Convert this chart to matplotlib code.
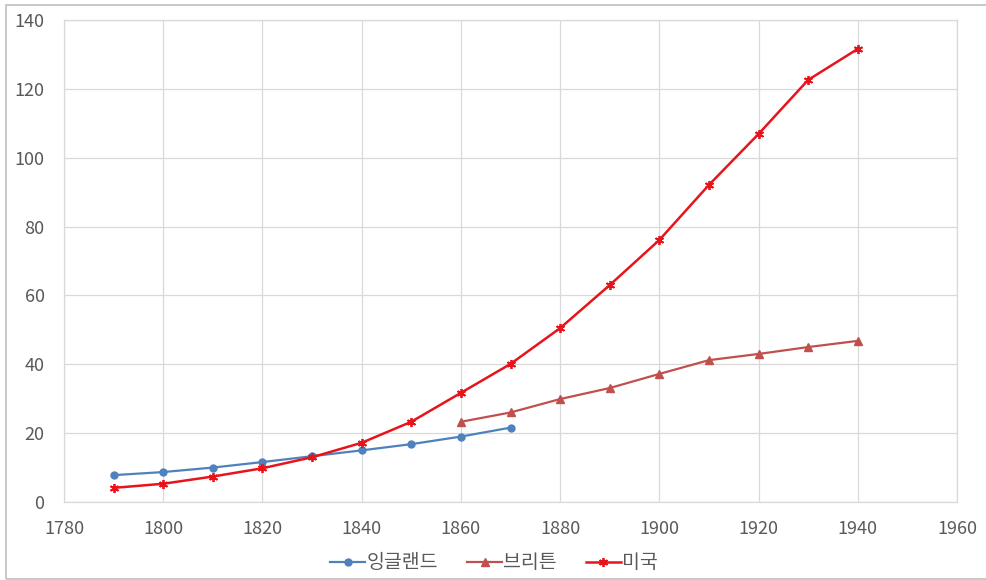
import numpy as np
import matplotlib.pyplot as plt

plt.rcParams['font.family'] = ['Noto Sans CJK KR', 'DejaVu Sans']

years_eng = [1790, 1800, 1810, 1820, 1830, 1840, 1850, 1860, 1870]
england = [7.8, 8.7, 10.0, 11.6, 13.3, 15.0, 16.8, 19.0, 21.6]

years_brit = [1860, 1870, 1880, 1890, 1900, 1910, 1920, 1930, 1940]
britain = [23.3, 26.0, 29.9, 33.1, 37.2, 41.2, 43.0, 45.0, 46.8]

years_us = [1790, 1800, 1810, 1820, 1830, 1840, 1850, 1860, 1870,
            1880, 1890, 1900, 1910, 1920, 1930, 1940]
usa = [4.1, 5.3, 7.4, 9.8, 13.0, 17.2, 23.3, 31.7, 40.1,
       50.5, 63.0, 76.1, 92.1, 106.9, 122.6, 131.6]

labels = ['잉글랜드', '브리튼', '미국']

fig = plt.figure(figsize=(9.86, 5.8), dpi=100)
ax = fig.add_axes([64 / 986, 1 - 502 / 580, (957 - 64) / 986, (502 - 20) / 580])

ax.plot(years_eng, england, color='#4F81BD', lw=1.6, marker='o', ms=5, label=labels[0])
ax.plot(years_brit, britain, color='#C0504D', lw=1.6, marker='^', ms=5.5, label=labels[1])
ax.plot(years_us, usa, color='#E8141B', lw=1.8, marker=(6, 2, 0), ms=6.5, mew=1.3, label=labels[2])

ax.set_xlim(1780, 1960)
ax.set_ylim(0, 140)
ax.set_xticks(np.arange(1780, 1961, 20))
ax.set_yticks(np.arange(0, 141, 20))
ax.grid(True, color='#D9D9D9', lw=0.9)
ax.set_axisbelow(True)
for s in ax.spines.values():
    s.set_color('#D9D9D9')
    s.set_linewidth(0.9)
ax.tick_params(length=0, labelsize=13, colors='#595959')
ax.tick_params(axis='x', pad=13)
ax.tick_params(axis='y', pad=14)

fig.legend(loc='center', bbox_to_anchor=(494 / 986, 1 - 563 / 580), ncol=3, frameon=False,
           fontsize=14, labelcolor='#595959', handlelength=1.8, handletextpad=0.05,
           columnspacing=1.5)

# outer chart border
fig.add_artist(plt.Rectangle((6 / 986, 1 / 580), 1.2, 1 - 6 / 580, transform=fig.transFigure,
                             fill=False, ec='#BFBFBF', lw=1.2))

fig.savefig('out.png', dpi=100, facecolor='white')
